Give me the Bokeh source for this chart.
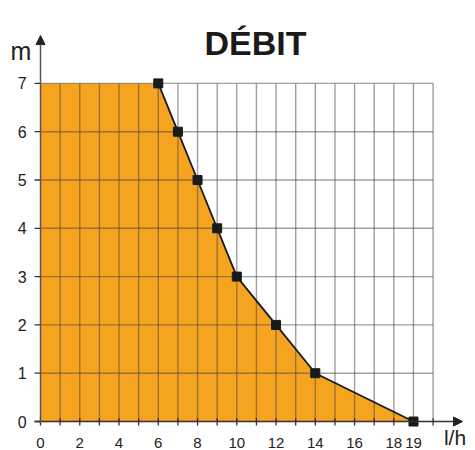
from bokeh.plotting import figure
from bokeh.models import Range1d, Arrow, NormalHead
from bokeh.core.properties import value
from bokeh.embed import file_html
from bokeh.resources import INLINE

# data
flow = [6, 7, 8, 9, 10, 12, 14, 19]      # l/h
head = [7, 6, 5, 4, 3, 2, 1, 0]          # m
x_tick_labels = [0, 2, 4, 6, 8, 10, 12, 14, 16, 18, 19]
y_tick_labels = [0, 1, 2, 3, 4, 5, 6, 7]
grid_x = list(range(1, 21))
grid_y = list(range(1, 8))
minor_x = list(range(0, 21))
title_text = "DÉBIT"
x_unit = "l/h"
y_unit = "m"

W, H = 475, 450
p = figure(width=W, height=H, output_backend="svg", toolbar_location=None,
           x_axis_type=None, y_axis_type=None, min_border=0,
           x_range=Range1d(-2.038, 22.16), y_range=Range1d(-0.600, 8.716))
p.outline_line_color = None
p.grid.visible = False
p.background_fill_color = "white"

FONT = value("Liberation Sans")

# filled area under the curve
fill_x = [0, 0] + flow
fill_y = [0, max(head)] + head
p.patch(fill_x, fill_y, fill_color="#F6A420", line_color=None)

# grid
p.segment(x0=grid_x, y0=[0] * len(grid_x), x1=grid_x, y1=[7] * len(grid_x),
          line_color="#404040", line_alpha=0.5, line_width=1.4)
p.segment(x0=[0] * len(grid_y), y0=grid_y, x1=[20] * len(grid_y), y1=grid_y,
          line_color="#404040", line_alpha=0.5, line_width=1.4)

# ticks
p.segment(x0=minor_x, y0=[-0.085] * len(minor_x), x1=minor_x, y1=[0.07] * len(minor_x),
          line_color="#333333", line_width=1.3)
p.segment(x0=[-0.3] * len(y_tick_labels), y0=y_tick_labels, x1=[0] * len(y_tick_labels),
          y1=y_tick_labels, line_color="#333333", line_width=1.3)

# axes with arrows
p.add_layout(Arrow(end=NormalHead(size=9, fill_color="#222222", line_color="#222222"),
                   x_start=-0.3, y_start=0, x_end=21.5, y_end=0,
                   line_color="#333333", line_width=1.5))
p.add_layout(Arrow(end=NormalHead(size=9, fill_color="#222222", line_color="#222222"),
                   x_start=0, y_start=-0.03, x_end=0, y_end=7.99,
                   line_color="#555555", line_width=1.5))

# curve and markers
p.line(flow, head, line_color="#1a1a1a", line_width=1.8)
p.scatter(flow, head, marker="square", size=9, fill_color="#1a1a1a", line_color="#1a1a1a")

# tick labels
p.text(x=x_tick_labels, y=[-0.445] * len(x_tick_labels), text=[str(v) for v in x_tick_labels],
       text_font=FONT, text_font_size="15px", text_color="#222222",
       text_align="center", text_baseline="middle")
p.text(x=[-0.7] * len(y_tick_labels), y=y_tick_labels, text=[str(v) for v in y_tick_labels],
       text_font=FONT, text_font_size="16px", text_color="#222222",
       text_align="right", text_baseline="middle")

# unit labels
p.text(x=[-1.53], y=[7.68], text=[y_unit], text_font=FONT, text_font_size="25px",
       text_color="#222222", text_align="left", text_baseline="middle")
p.text(x=[20.55], y=[-0.33], text=[x_unit], text_font=FONT, text_font_size="21px",
       text_color="#222222", text_align="left", text_baseline="middle")

# title
p.text(x=[10.95], y=[7.826], text=[title_text], text_font=FONT, text_font_size="34px",
       text_font_style="bold", text_color="#1a1a1a", text_align="center",
       text_baseline="alphabetic")

open("out.html", "w").write(file_html(p, INLINE))
